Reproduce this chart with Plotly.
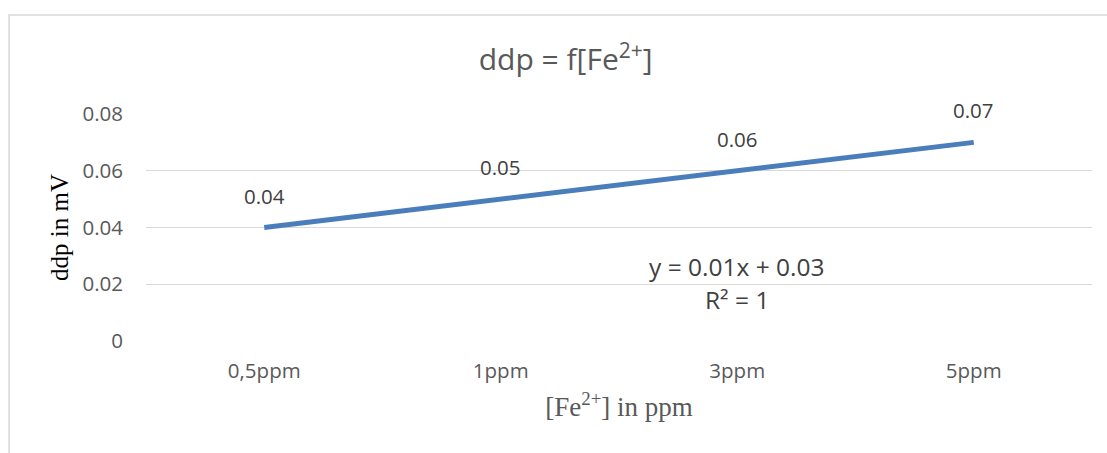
import numpy as np
import plotly.graph_objects as go

categories = ["0,5ppm", "1ppm", "3ppm", "5ppm"]
ddp_values = [0.04, 0.05, 0.06, 0.07]
y_ticks = [0, 0.02, 0.04, 0.06, 0.08]
y_tick_labels = ["0", "0.02", "0.04", "0.06", "0.08"]

LINE_COLOR = "#4a7ebb"
TEXT_COLOR = "#595959"
LABEL_COLOR = "#404040"
SANS = "Open Sans, Liberation Sans, sans-serif"
SERIF = "Liberation Serif, Times New Roman, serif"

# linear trendline (Excel-style, x = 1..n)
xi = np.arange(1, len(ddp_values) + 1)
slope, intercept = np.polyfit(xi, ddp_values, 1)
pred = slope * xi + intercept
ss_res = np.sum((np.array(ddp_values) - pred) ** 2)
ss_tot = np.sum((np.array(ddp_values) - np.mean(ddp_values)) ** 2)
r2 = 1 - ss_res / ss_tot

fig = go.Figure()
fig.add_trace(go.Scatter(
    x=categories, y=ddp_values, mode="lines",
    line=dict(color=LINE_COLOR, width=4.8),
    showlegend=False, hoverinfo="x+y",
))

annotations = []
for c, v in zip(categories, ddp_values):
    annotations.append(dict(
        x=c, y=v, xref="x", yref="y", text=f"{v:.2f}", showarrow=False,
        yshift=32, font=dict(family=SANS, size=20.5, color=LABEL_COLOR),
    ))

annotations.append(dict(
    x=categories[2], y=0.0262, xref="x", yref="y",
    text=f"y = {slope:.2f}x + {intercept:.2f}", showarrow=False,
    font=dict(family=SANS, size=24.5, color=LABEL_COLOR),
))
annotations.append(dict(
    x=categories[2], y=0.0146, xref="x", yref="y",
    text=f"R² = {r2:.0f}", showarrow=False,
    font=dict(family=SANS, size=24.5, color=LABEL_COLOR),
))

fig.update_layout(
    width=1107, height=453,
    margin=dict(l=146, r=15, t=114, b=112),
    paper_bgcolor="white", plot_bgcolor="white",
    title=dict(
        text="ddp = f[Fe<sup>2+</sup>]", x=0.511, xanchor="center",
        y=0.868, yanchor="middle",
        font=dict(family=SANS, size=30, color=TEXT_COLOR),
    ),
    xaxis=dict(
        type="category", range=[-0.5, 3.5],
        showgrid=False, zeroline=False, showline=False,
        ticks="", tickfont=dict(family=SANS, size=20.5, color=TEXT_COLOR),
        ticklabelstandoff=15,
        title=dict(text="[Fe<sup>2+</sup>] in ppm", standoff=14,
                   font=dict(family=SERIF, size=27, color=TEXT_COLOR)),
    ),
    yaxis=dict(
        range=[0, 0.08], tickvals=y_ticks, ticktext=y_tick_labels,
        showgrid=True, gridcolor="#d9d9d9", gridwidth=1.3,
        zeroline=False, showline=False, ticks="",
        tickfont=dict(family=SANS, size=20.5, color=TEXT_COLOR),
        ticklabelstandoff=22,
        title=dict(text="ddp in mV", standoff=6,
                   font=dict(family=SERIF, size=25, color="black")),
    ),
    annotations=annotations,
    shapes=[dict(
        type="rect", xref="paper", yref="paper",
        x0=-0.1448, x1=1.2, y0=-0.6, y1=1.436,
        line=dict(color="#d9d9d9", width=1.5), fillcolor="rgba(0,0,0,0)",
        layer="below",
    )],
)

fig.write_html("out.html")
